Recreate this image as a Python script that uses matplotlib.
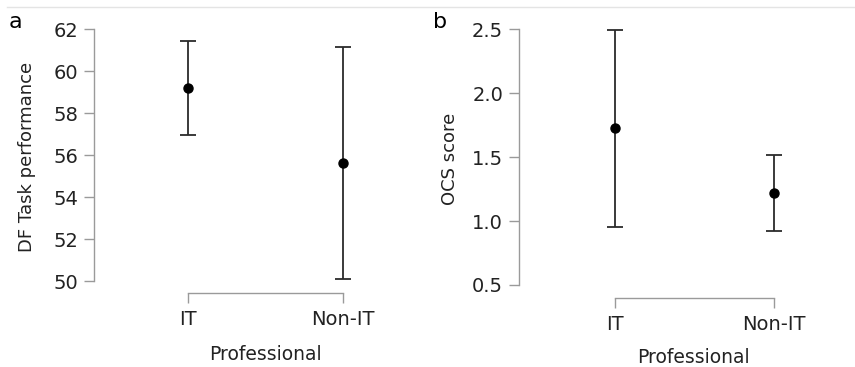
import matplotlib
matplotlib.use("Agg")
import matplotlib.pyplot as plt
from matplotlib.lines import Line2D

# data
groups = ["IT", "Non-IT"]
df_mean = [59.2, 55.63]
df_low = [56.95, 50.11]
df_high = [61.43, 61.16]

ocs_mean = [1.725, 1.219]
ocs_low = [0.955, 0.922]
ocs_high = [2.495, 1.519]

df_ticks = [50, 52, 54, 56, 58, 60, 62]
ocs_ticks = [0.5, 1.0, 1.5, 2.0, 2.5]

W, H = 855, 367
plt.rcParams['font.family'] = ['DejaVu Sans']
fig = plt.figure(figsize=(W / 100, H / 100), dpi=100)

spine_col = "#9a9a9a"
bar_col = "#2b2b2b"


def px_axes(l, r, t, b):
    return fig.add_axes([l / W, 1 - b / H, (r - l) / W, (b - t) / H])


def panel(ax, mean, low, high, ticks, ylim, xlim, ylab, ylab_xy, xlab_xy):
    x = list(range(len(groups)))
    err = [[m - lo for m, lo in zip(mean, low)], [hi - m for m, hi in zip(mean, high)]]
    ax.errorbar(x, mean, yerr=err, fmt="o", color="black", ecolor=bar_col,
                elinewidth=1.3, capsize=5.5, capthick=1.3, markersize=6.5)
    ax.set_xlim(*xlim)
    ax.set_ylim(*ylim)
    ax.set_yticks(ticks)
    ax.set_xticks(x)
    ax.set_xticklabels(groups)
    for s in ["top", "right"]:
        ax.spines[s].set_visible(False)
    ax.spines["left"].set_bounds(ticks[0], ticks[-1])
    ax.spines["bottom"].set_bounds(x[0], x[-1])
    for s in ["left", "bottom"]:
        ax.spines[s].set_color(spine_col)
        ax.spines[s].set_linewidth(1.0)
    ax.tick_params(axis="both", colors=spine_col, labelcolor="#222222",
                   labelsize=14, length=7.5, width=1.0)
    ax.tick_params(axis="y", pad=4)
    ax.tick_params(axis="x", pad=5)
    ax.set_ylabel(ylab, fontsize=13, color="#222222")
    ax.set_xlabel("Professional", fontsize=13.5, color="#222222")
    ax.yaxis.set_label_coords(*ylab_xy)
    ax.xaxis.set_label_coords(*xlab_xy)


ax1 = px_axes(94, 400, 20, 293)
panel(ax1, df_mean, df_low, df_high, df_ticks, (49.43, 62.43), (-0.606, 1.368),
      "DF Task performance", (-0.19, 0.5), (0.559, -0.19))

ax2 = px_axes(519, 855, 20, 297.7)
panel(ax2, ocs_mean, ocs_low, ocs_high, ocs_ticks, (0.40, 2.573), (-0.602, 1.511),
      "OCS score", (-0.18, 0.5), (0.518, -0.181))

fig.text(15 / W, 1 - 22 / H, "a", fontsize=16, ha="center", va="center")
fig.text(440 / W, 1 - 22 / H, "b", fontsize=16, ha="center", va="center")

fig.add_artist(Line2D([7 / W, 1], [1 - 7 / H, 1 - 7 / H], color="#e4e4e4", lw=1.0))

fig.savefig("out.png", dpi=100)
